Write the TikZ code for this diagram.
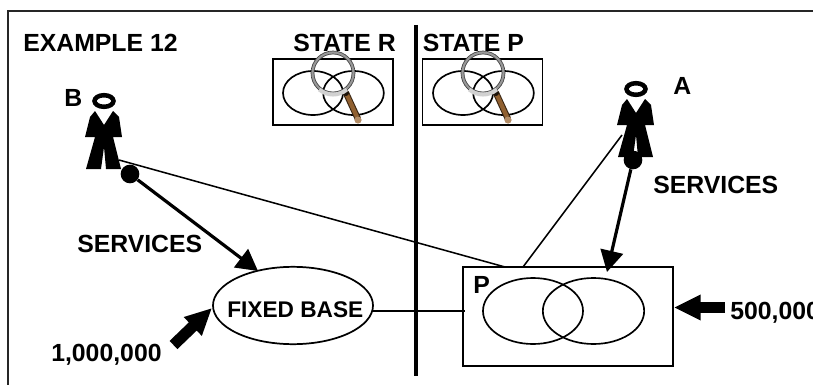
\documentclass[tikz,border=0pt]{standalone}
\usepackage{fontspec}
\setmainfont{Liberation Sans}
\usetikzlibrary{arrows.meta,shapes.geometric}
\tikzset{
  px/.style={x=0.75pt,y=-0.75pt},
  lbl/.style={inner sep=0pt,anchor=base west,font=\fontsize{#1}{#1}\selectfont\bfseries},
  lbl/.default=18.6,
  thinline/.style={line width=1.15pt,black},
  boxline/.style={draw=black,line width=1.3pt,inner sep=0pt},
  venn/.style={ellipse,draw=black,inner sep=0pt,line width=1.25pt},
  dot/.style={circle,fill=black,inner sep=0pt,minimum size=14pt},
  svc/.style={line width=2.4pt,-{Triangle[length=16pt,width=17pt]}},
  block/.style={line width=8.5pt,-{Triangle[length=20pt,width=18pt]}},
  person/.pic={
    \fill[black] (-9,10) -- (0,24) -- (9,10) -- (15,16) -- (18,36) -- (9,36) -- (17,68) -- (2,68) -- (0,46) -- (-3,68) -- (-18,68) -- (-9,36) -- (-19,36) -- (-14,16) -- cycle;
    \draw[black,line width=3.4pt] (0,0) ellipse (9.5 and 5.8);
  },
  lens/.pic={
    \draw[line width=4.8pt,black!70!brown,line cap=round] (13,20) -- (25,46);
    \draw[line width=3.2pt,brown!75!black] (14,22) -- (24,44);
    \fill[brown!70!white!85!black] (25,47) circle (3.6);
    \fill[black!85!brown] (13,20) circle (3);
    \draw[black!40,line width=2.2pt] (0,0) circle (20.5);
    \draw[black!75,line width=.5pt] (0,0) circle (22);
    \draw[black!75,line width=.5pt] (0,0) circle (19);
    \draw[black!18,line width=3pt] (-13.8,16.5) arc[start angle=130,end angle=50,radius=21.5];
  }
}
\begin{document}
\begin{tikzpicture}[px]
\useasboundingbox (0,0) rectangle (813,385);
\clip (0,0) rectangle (813,385);
\coordinate (frameTL) at (8,11);
\coordinate (frameTR) at (815,11);
\coordinate (frameBL) at (8,387);
\draw[line width=1.5pt,black!85] (frameBL) -- (frameTL) -- (frameTR);
\coordinate (divT) at (416,25);
\coordinate (divB) at (416,376);
\draw[line width=3pt] (divT) -- (divB);

\node[lbl] (ex) at (23,52) {EXAMPLE 12};
\node[lbl] (stR) at (293,52) {STATE R};
\node[lbl] (stP) at (422.5,52) {STATE P};
\node[lbl] (lB) at (64,106) {B};
\node[lbl] (lA) at (673,94) {A};
\node[lbl=18.6] (sA) at (653,193) {SERVICES};
\node[lbl=18.6] (sB) at (77,252) {SERVICES};
\node[lbl=18.6] (m1) at (51,361) {1,000,000};
\node[lbl=18.6] (m5) at (730,319) {500,000};

% small state boxes
\node[boxline,minimum width=90pt,minimum height=49.5pt] (boxR) at (333,92) {};
\node[boxline,minimum width=90pt,minimum height=49.5pt] (boxS) at (482.5,92) {};
\node[venn,minimum width=45pt,minimum height=33pt] (rl) at (313,93) {};
\node[venn,minimum width=45.5pt,minimum height=33pt] (rr) at (353.5,93) {};
\node[venn,minimum width=45pt,minimum height=33pt] (pl) at (463,93) {};
\node[venn,minimum width=45.5pt,minimum height=33pt] (pr) at (503.5,93) {};
\pic at (333,73) {lens};
\pic at (483,73) {lens};

% persons
\pic at (104,101) {person};
\pic at (636,89) {person};
\coordinate (handB) at (119,160);
\coordinate (handA) at (622,135);
\node[dot] (dotB) at (130,174) {};
\node[dot] (dotA) at (633,160) {};

% main shapes
\node[ellipse,draw=black,line width=1.3pt,inner sep=0pt,minimum width=120pt,minimum height=58pt] (fixed) at (293,305.5) {};
\node[lbl=17] (fixedT) at (227,317) {FIXED BASE};
\node[boxline,minimum width=157.5pt,minimum height=74.5pt] (bigP) at (568,316.5) {};
\node[venn,minimum width=75pt,minimum height=49.5pt] (vl) at (533,311) {};
\node[venn,minimum width=76pt,minimum height=49.5pt] (vr) at (593.5,311) {};
\node[lbl] (lP) at (473,293) {P};

% connectors
\coordinate (fixedE) at (373,311);
\coordinate (pW) at (465,311);
\coordinate (pTopB) at (505,267);
\coordinate (pTopA) at (523,267);
\coordinate (tipB) at (258,271);
\coordinate (tipA) at (607,272);
\draw[thinline] (handB) -- (pTopB);
\draw[thinline] (handA) -- (pTopA);
\draw[thinline] (fixedE) -- (pW);
\draw[svc] (dotB) -- (tipB);
\draw[svc] (dotA) -- (tipA);

\coordinate (tail1) at (173.5,345);
\coordinate (tip1) at (212,308);
\coordinate (tail5) at (725,307.5);
\coordinate (tip5) at (674,307.5);
\draw[block] (tail1) -- (tip1);
\draw[block] (tail5) -- (tip5);
\end{tikzpicture}
\end{document}
